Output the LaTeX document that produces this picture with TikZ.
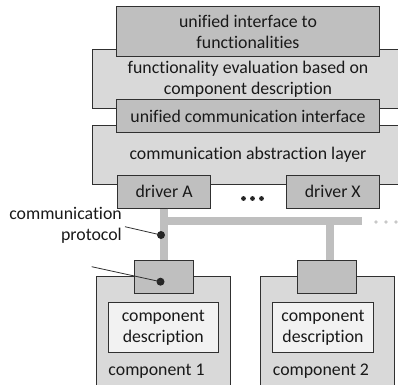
\documentclass[tikz,border=0pt]{standalone}
\usepackage{fontspec}
\setmainfont[Ligatures={NoCommon}]{Carlito}
\definecolor{lineC}{HTML}{303030}
\definecolor{darkF}{HTML}{BFBFBF}
\definecolor{lightF}{HTML}{D9D9D9}
\definecolor{paleF}{HTML}{F2F2F2}
\definecolor{busC}{HTML}{BFBFBF}
\definecolor{dotC}{HTML}{C8C8C8}
\begin{document}
\begin{tikzpicture}[x=1bp,y=-1bp,
  txt/.style={font=\fontsize{17.8bp}{21.5bp}\selectfont, align=center, inner sep=0pt, text=black!90},
  boxbase/.style={draw=lineC, line width=0.8bp, inner sep=0pt, rectangle},
  darkbox/.style={boxbase, fill=darkF},
  lightbox/.style={boxbase, fill=lightF},
  palebox/.style={boxbase, fill=paleF},
  bus/.style={busC, line width=8bp},
  pointer/.style={draw=lineC, line width=0.8bp},
  blob/.style={circle, fill=black!85, inner sep=0pt, minimum size=8bp}]
\useasboundingbox (0,0) rectangle (398,385);
\clip (0,0) rectangle (398,385);
% layers
\node[lightbox, minimum width=328bp, minimum height=58.7bp] (evalbox) at (256,78.7) {};
\node[txt] (evaltxt) at (248,79) {functionality evaluation based on\\component description};
\node[darkbox, txt, minimum width=262.6bp, minimum height=50bp] (uif) at (248,31.7) {unified interface to\\functionalities};
\node[lightbox, minimum width=328bp, minimum height=59bp] (calbox) at (256,154.5) {};
\node[txt] (caltxt) at (248,155) {communication abstraction layer};
\node[darkbox, txt, minimum width=262.6bp, minimum height=33.4bp] (uci) at (248,116) {unified communication interface};
% bus
\coordinate (busL) at (163.7,221);
\coordinate (busR) at (361.7,221);
\coordinate (busB) at (330,221);
% components
\node[lightbox, minimum width=133.7bp, minimum height=123.3bp] (comp1) at (163.2,338.3) {};
\node[lightbox, minimum width=133.6bp, minimum height=123.3bp] (comp2) at (327.5,338.3) {};
\node[darkbox, minimum width=59.4bp, minimum height=33.3bp] (conn1) at (164,276.7) {};
\node[darkbox, minimum width=59.4bp, minimum height=33.3bp] (conn2) at (327,276.7) {};
\node[palebox, txt, minimum width=110bp, minimum height=50bp] (desc1) at (163.3,327.7) {component\\description};
\node[palebox, txt, minimum width=100.6bp, minimum height=50bp] (desc2) at (323,327.7) {component\\description};
\node[txt, anchor=west] (c1lab) at (108.3,371.5) {component 1};
\node[txt, anchor=west] (c2lab) at (272.7,371.5) {component 2};
% drivers
\node[darkbox, txt, minimum width=92.8bp, minimum height=33bp] (drvA) at (164.1,191.8) {driver A};
\node[darkbox, txt, minimum width=93bp, minimum height=33bp] (drvX) at (332.8,191.8) {driver X};
% bus lines
\draw[bus] (drvA.south) -- (drvA.south |- conn1.north);
\draw[bus] (busL) -- (busR);
\draw[bus] (busB) -- (busB |- conn2.north);
% dots between drivers
\fill[black!85] (243.5,198.5) circle (2.4bp) (252.5,198.5) circle (2.4bp) (261.5,198.5) circle (2.4bp);
% faded dots
\fill[dotC] (376,222) circle (1.8bp) (386,222) circle (1.8bp) (396,222) circle (1.8bp);
% label and pointers
\node[txt, align=right, anchor=east] (protlab) at (122,225.4) {communication\\protocol};
\coordinate (p1) at (125,226.7);
\coordinate (p2) at (91.7,266.7);
\node[blob] (d1) at (161,235) {};
\node[blob] (d2) at (160.5,281.7) {};
\draw[pointer] (p1) -- (d1.center);
\draw[pointer] (p2) -- (d2.center);
\end{tikzpicture}
\end{document}
